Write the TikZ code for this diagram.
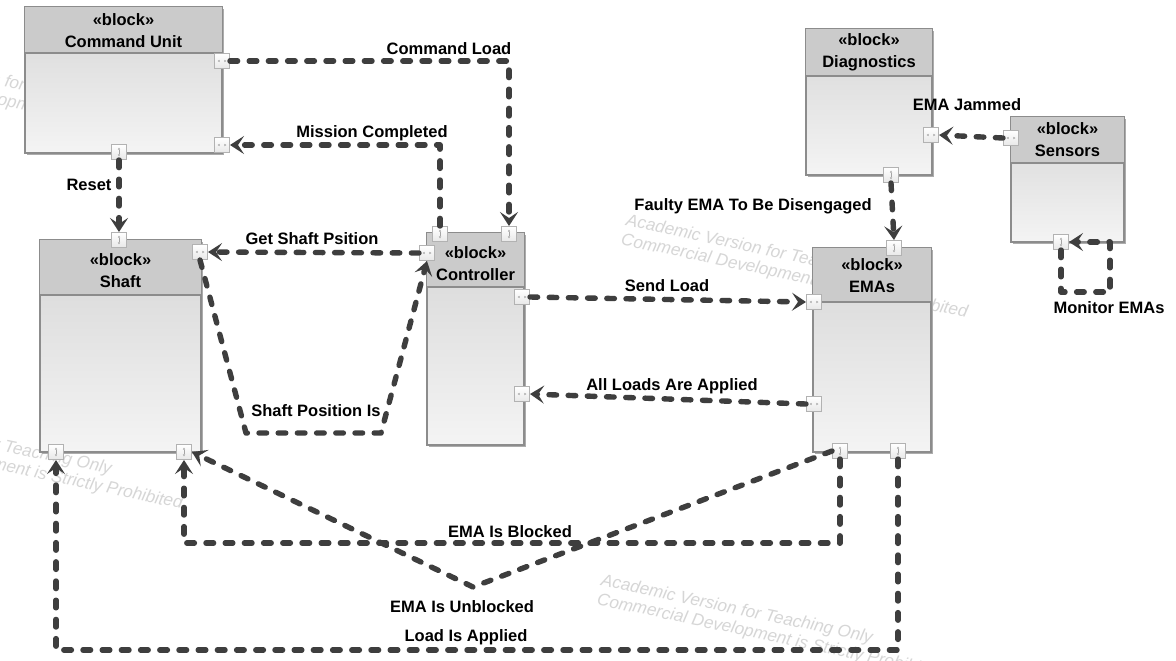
\documentclass[tikz,border=0pt]{standalone}
\usepackage{fontspec}
\setmainfont{Liberation Sans}
\newfontfamily\wmfont{Liberation Sans}
\usetikzlibrary{arrows.meta,fit,calc,shadows}
\definecolor{lineC}{RGB}{62,62,62}
\definecolor{borderC}{RGB}{140,140,140}
\definecolor{headC}{RGB}{203,203,203}
\definecolor{bodyTop}{RGB}{214,214,214}
\definecolor{bodyBot}{RGB}{244,244,244}
\definecolor{markC}{RGB}{165,165,165}
\definecolor{wmC}{RGB}{214,214,214}
\newcommand{\lblfont}{\fontsize{8.25}{10}\selectfont\bfseries}
\newcommand{\mkblock}[6]{%
  \node[blockbody, fit={(#2,#3) (#4,#5)}] (#1) {};
  \fill[headC] (#1.north west) rectangle (#4,#6);
  \draw[borderC, line width=0.6pt] (#1.north west) rectangle (#1.south east);
  \draw[borderC, line width=0.6pt] (#2,#6) -- (#4,#6);
}
\tikzset{
  blockbody/.style={inner sep=0pt, draw=borderC, line width=0.6pt,
    top color=bodyTop, bottom color=bodyBot,
    drop shadow={shadow xshift=1.2pt, shadow yshift=-1.2pt, fill=gray!65, opacity=1}},
  ttl/.style={align=center, font=\fontsize{8.25}{11}\selectfont\bfseries, inner sep=0pt},
  lbl/.style={font=\lblfont, inner sep=0pt, text=black},
  wm/.style={font=\fontsize{8.6}{10}\selectfont\wmfont\itshape, text=wmC, rotate=-12, anchor=west, inner sep=0pt},
  portbox/.style={draw=gray!60, line width=0.5pt, top color=white, bottom color=gray!18,
    minimum size=7.5pt, inner sep=0pt},
  hport/.style={portbox, path picture={
    \fill[markC] ([xshift=-2.2pt]path picture bounding box.center) -- ++(1pt,0.6pt) -- ++(0,-1.2pt) -- cycle;
    \fill[markC] ([xshift=2.2pt]path picture bounding box.center) -- ++(-1pt,0.6pt) -- ++(0,-1.2pt) -- cycle;}},
  vport/.style={portbox, path picture={
    \fill[markC] ([yshift=2.2pt]path picture bounding box.center) -- ++(0.6pt,-1pt) -- ++(-1.2pt,0) -- cycle;
    \fill[markC] ([yshift=-2.2pt]path picture bounding box.center) -- ++(0.6pt,1pt) -- ++(-1.2pt,0) -- cycle;
    \draw[markC, line width=0.2pt] ([yshift=1.2pt]path picture bounding box.center) -- ([yshift=-1.2pt]path picture bounding box.center);}},
  conn/.style={draw=lineC, line width=2.7pt, line cap=round, line join=round,
    dash pattern=on 3.8pt off 5.8pt,
    -{Stealth[length=7pt,width=9pt,inset=3pt]}},
}
\begin{document}
\begin{tikzpicture}[x=0.5pt,y=-0.5pt]
\fill[white] (0,0) rectangle (1176,660);
\useasboundingbox (0,0) rectangle (1176,660);

% watermarks
\node[wm] (w1a) at (-135,52) {Academic Version for Teaching Only};
\node[wm] (w1b) at (-140,71) {Commercial Development is Strictly Prohibited};
\node[wm] (w2a) at (626,221) {Academic Version for Teaching Only};
\node[wm] (w2b) at (621,240) {Commercial Development is Strictly Prohibited};
\node[wm] (w3a) at (-160,412) {Academic Version for Teaching Only};
\node[wm] (w3b) at (-164,431) {Commercial Development is Strictly Prohibited};
\node[wm] (w4a) at (601,581) {Academic Version for Teaching Only};
\node[wm] (w4b) at (597,600) {Commercial Development is Strictly Prohibited};

% blocks
\mkblock{cu}{25}{7}{222}{153}{53}
\mkblock{sh}{40}{240}{201}{452}{295}
\mkblock{ct}{427}{233}{524}{445}{287}
\mkblock{dg}{806}{29}{932}{175}{76}
\mkblock{sn}{1011}{117}{1124}{242}{163}
\mkblock{em}{813}{248}{931}{452}{302}

\node[ttl] (cuT) at (123.5,31) {«block»\\Command Unit};
\node[ttl] (shT) at (120.5,271) {«block»\\Shaft};
\node[ttl] (ctT) at (475.5,263.5) {«block»\\Controller};
\node[ttl] (dgT) at (869,52.5) {«block»\\Diagnostics};
\node[ttl] (snT) at (1067.5,139.5) {«block»\\Sensors};
\node[ttl] (emT) at (872,276) {«block»\\EMAs};

% ports
\node[hport] (cuR1) at (222,61) {};
\node[hport] (cuR2) at (222,145) {};
\node[vport] (cuB) at (119,152) {};
\node[vport] (shTp) at (119,240) {};
\node[hport] (shR) at (200,252) {};
\node[vport] (shB1) at (56,452) {};
\node[vport] (shB2) at (184,452) {};
\node[vport] (ctT1) at (440,234) {};
\node[vport] (ctT2) at (509,234) {};
\node[hport] (ctL) at (427,253) {};
\node[hport] (ctR1) at (522,297) {};
\node[hport] (ctR2) at (522,394) {};
\node[hport] (emL1) at (814,302) {};
\node[hport] (emL2) at (814,404) {};
\node[vport] (emTp) at (894,248) {};
\node[vport] (emB1) at (840,451) {};
\node[vport] (emB2) at (898,451) {};
\node[hport] (dgR) at (931,135) {};
\node[vport] (dgB) at (891,175) {};
\node[hport] (snL) at (1011,138) {};
\node[vport] (snB) at (1061,242) {};

% helper coordinates
\coordinate (sp1) at (246,433);
\coordinate (sp2) at (381,433);
\coordinate (mon) at (1110,292);
\coordinate (blk) at (184,543);
\coordinate (ubl) at (473,587);
\coordinate (lap) at (56,650);

% connectors
\draw[conn] (cuR1.east) -| (ctT2.north);
\draw[conn] (ctT1.north) |- (cuR2.east);
\draw[conn] (cuB.south) -- (shTp.north);
\draw[conn] (ctL.west) -- (shR.east);
\draw[conn] (shR.south) -- (sp1) -- (sp2) -- (ctL.south);
\draw[conn] (ctR1.east) -- (emL1.west);
\draw[conn] (emL2.west) -- (ctR2.east);
\draw[conn] (dgB.south) -- (emTp.north);
\draw[conn] (snL.west) -- (dgR.east);
\draw[conn] (snB.south) |- (mon) |- (snB.east);
\draw[conn] (emB1.south) |- (blk) -- (shB2.south);
\draw[conn] (emB1.west) -- (ubl) -- (shB2.east);
\draw[conn] (emB2.south) |- (lap) -- (shB1.south);

% labels
\node[lbl] (l1) at (449,49) {Command Load};
\node[lbl] (l2) at (372,133) {Mission Completed};
\node[lbl] (l3) at (89,185) {Reset};
\node[lbl] (l4) at (312,239) {Get Shaft Psition};
\node[lbl] (l5) at (316,411) {Shaft Position Is};
\node[lbl] (l6) at (667,286) {Send Load};
\node[lbl] (l7) at (672,386) {All Loads Are Applied};
\node[lbl, anchor=east] (l8) at (872,206) {Faulty EMA To Be Disengaged};
\node[lbl] (l9) at (967,105) {EMA Jammed};
\node[lbl] (l10) at (1109,308) {Monitor EMAs};
\node[lbl] (l11) at (510,532) {EMA Is Blocked};
\node[lbl] (l12) at (462,607) {EMA Is Unblocked};
\node[lbl] (l13) at (466,637) {Load Is Applied};
\end{tikzpicture}
\end{document}
